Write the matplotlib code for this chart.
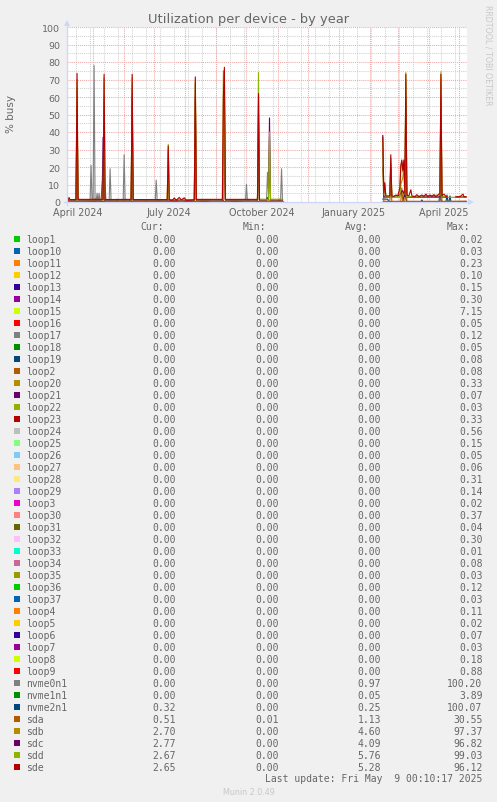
import numpy as np
import pandas as pd
import matplotlib
matplotlib.use("Agg")
import matplotlib.pyplot as plt
from matplotlib.lines import Line2D
from matplotlib.patches import Rectangle, Polygon

# -----------------------------
# Legend table (alphabetical, as munin lists it)
# -----------------------------
NAMES = ["loop1", "loop10", "loop11", "loop12", "loop13", "loop14", "loop15", "loop16",
         "loop17", "loop18", "loop19", "loop2", "loop20", "loop21", "loop22", "loop23",
         "loop24", "loop25", "loop26", "loop27", "loop28", "loop29", "loop3", "loop30",
         "loop31", "loop32", "loop33", "loop34", "loop35", "loop36", "loop37", "loop4",
         "loop5", "loop6", "loop7", "loop8", "loop9", "nvme0n1", "nvme1n1", "nvme2n1",
         "sda", "sdb", "sdc", "sdd", "sde"]
COLORS = ["#00CC00", "#0066B3", "#FF8000", "#FFCC00", "#330099", "#990099", "#CCFF00", "#FF0000",
          "#808080", "#008F00", "#00487D", "#B35A00", "#B38F00", "#6B006B", "#8FB300", "#B30000",
          "#BEBEBE", "#80FF80", "#80C9FF", "#FFC080", "#FFE680", "#AA80FF", "#EE00CC", "#FF8080",
          "#666600", "#FFBFFF", "#00FFCC", "#CC6699", "#999900", "#00CC00", "#0066B3", "#FF8000",
          "#FFCC00", "#330099", "#990099", "#CCFF00", "#FF0000", "#808080", "#008F00", "#00487D",
          "#B35A00", "#B38F00", "#6B006B", "#8FB300", "#B30000"]
CUR = [0.00] * 39 + [0.32, 0.51, 2.70, 2.77, 2.67, 2.65]
MIN = [0.00] * 40 + [0.01, 0.00, 0.00, 0.00, 0.00]
AVG = [0.00] * 37 + [0.97, 0.05, 0.25, 1.13, 4.60, 4.09, 5.76, 5.28]
MAX = [0.02, 0.03, 0.23, 0.10, 0.15, 0.30, 7.15, 0.05, 0.12, 0.05, 0.08, 0.08, 0.33, 0.07,
       0.03, 0.33, 0.56, 0.15, 0.05, 0.06, 0.31, 0.14, 0.02, 0.37, 0.04, 0.30, 0.01, 0.08,
       0.03, 0.12, 0.03, 0.11, 0.02, 0.07, 0.03, 0.18, 0.88, 100.20, 3.89, 100.07, 30.55,
       97.37, 96.82, 99.03, 96.12]

# -----------------------------
# Series (daily averages, None = no data)
# -----------------------------
idle_dates = ["2024-04-05", "2024-11-06", "2025-01-01", "2025-02-14", "2025-05-08"]
idle_vals = [0.0, 0.0, None, 0.0, 0.0]

nvme0n1_dates = ["2024-04-05", "2024-04-28", "2024-04-29", "2024-04-30", "2024-05-01", "2024-05-02",
                 "2024-05-03", "2024-05-04", "2024-05-05", "2024-05-06", "2024-05-07", "2024-05-08",
                 "2024-05-12", "2024-05-13", "2024-05-14", "2024-05-17", "2024-05-18", "2024-05-19",
                 "2024-05-31", "2024-06-01", "2024-06-02", "2024-07-02", "2024-07-03", "2024-07-04",
                 "2024-09-30", "2024-10-01", "2024-10-02", "2024-10-21", "2024-10-22", "2024-10-23",
                 "2024-10-24", "2024-10-25", "2024-11-04", "2024-11-05", "2024-11-06", "2025-01-01",
                 "2025-02-14", "2025-05-08"]
nvme0n1_vals = [0, 0, 21, 0, 0, 78, 0, 0, 5, 0, 5, 0, 0, 10, 0, 0, 19, 0, 0, 27, 0, 0, 12.5, 0,
                0, 10, 0, 0, 17, 5, 38, 0, 0, 19, 0, None, 0, 0]

nvme1n1_dates = idle_dates
nvme1n1_vals = [0.05, 0.05, None, 0.05, 0.05]

nvme2n1_dates = ["2024-04-05", "2024-04-06", "2024-04-12", "2024-04-13", "2024-04-14", "2024-05-03",
                 "2024-05-04", "2024-05-05", "2024-05-24", "2024-05-25", "2024-05-26", "2024-06-06",
                 "2024-06-07", "2024-06-08", "2024-06-22", "2024-06-23", "2024-06-24", "2024-07-05",
                 "2024-07-06", "2024-07-07", "2024-09-06", "2024-09-07", "2024-09-08", "2024-10-02",
                 "2024-10-03", "2024-10-04", "2024-10-10", "2024-10-11", "2024-10-12", "2024-11-02",
                 "2024-11-03", "2024-11-04", "2024-11-06", "2025-01-01",
                 "2025-02-14", "2025-02-19", "2025-02-20", "2025-03-06", "2025-03-07", "2025-03-08",
                 "2025-03-09", "2025-03-10", "2025-03-24", "2025-03-25", "2025-03-26", "2025-04-11",
                 "2025-04-12", "2025-04-13", "2025-04-14", "2025-04-18", "2025-04-19", "2025-04-20",
                 "2025-04-21", "2025-04-22", "2025-04-23", "2025-05-08"]
nvme2n1_vals = [1.8, 0.1, 0.1, 1.6, 0.1, 0.1, 1.5, 0.1, 0.1, 1.6, 0.1, 0.1, 1.5, 0.1, 0.1, 1.4,
                0.1, 0.1, 1.5, 0.1, 0.1, 1.6, 0.1, 0.1, 1.5, 0.1, 0.1, 1.5, 0.1, 0.1, 1.6, 0.1,
                0.1, None,
                1.7, 1.6, 0.1, 0.1, 3.0, 6.5, 2.0, 0.1, 0.1, 1.2, 0.1, 0.1, 5.0, 1.0, 0.1, 0.1,
                4.0, 0.2, 0.2, 3.5, 0.1, 0.3]

sda_dates = ["2024-04-05", "2024-04-14", "2024-04-15", "2024-04-16", "2024-04-30", "2024-05-03",
             "2024-05-06", "2024-05-09", "2024-05-12", "2024-05-13", "2024-06-08", "2024-06-09",
             "2024-06-10", "2024-07-14", "2024-07-15", "2024-07-16", "2024-07-22", "2024-07-28",
             "2024-08-03", "2024-08-10", "2024-08-11", "2024-08-12", "2024-08-20", "2024-08-28",
             "2024-09-08", "2024-09-09", "2024-09-10", "2024-09-20", "2024-10-01", "2024-10-12",
             "2024-10-13", "2024-10-14", "2024-11-06", "2025-01-01",
             "2025-02-14", "2025-02-15", "2025-02-21", "2025-02-22", "2025-02-23", "2025-03-04",
             "2025-03-05", "2025-03-06", "2025-03-08", "2025-03-09", "2025-03-10", "2025-04-12",
             "2025-04-13", "2025-04-14", "2025-05-08"]
sda_vals = [0.6, 0.5, 30.5, 0.5, 0.8, 1.8, 0.5, 1.5, 25, 0.5, 0.5, 28, 0.5, 0.5, 15, 0.5, 1.0, 0.3,
            1.2, 0.6, 28, 0.5, 1.0, 0.4, 0.5, 30, 0.5, 0.9, 0.4, 0.4, 25, 0.4, 0.4, None,
            20, 0.4, 0.4, 12, 0.4, 0.4, 8, 0.4, 0.4, 28, 0.4, 0.4, 25, 0.4, 0.5]

sdb_dates = ["2024-04-05", "2024-04-14", "2024-04-15", "2024-04-16", "2024-05-11", "2024-05-12",
             "2024-05-13", "2024-06-08", "2024-06-09", "2024-06-10", "2024-07-14", "2024-07-15",
             "2024-07-16", "2024-08-10", "2024-08-11", "2024-08-12", "2024-09-07", "2024-09-08",
             "2024-09-09", "2024-09-10", "2024-10-12", "2024-10-13", "2024-10-14", "2024-11-06",
             "2025-01-01",
             "2025-02-14", "2025-02-15", "2025-02-21", "2025-02-22", "2025-02-23", "2025-03-03",
             "2025-03-04", "2025-03-05", "2025-03-06", "2025-03-07", "2025-03-08", "2025-03-09",
             "2025-03-10", "2025-04-12", "2025-04-13", "2025-04-14", "2025-05-08"]
sdb_vals = [1.0, 1.0, 65, 1.0, 1.0, 60, 1.0, 1.0, 65, 1.0, 1.0, 30, 1.0, 1.0, 68, 1.0, 1.0, 75,
            50, 1.0, 1.0, 55, 1.0, 1.0, None,
            30, 2.7, 2.7, 22, 2.7, 2.7, 10, 12, 14, 20, 2.7, 70, 2.7, 2.7, 70, 2.7, 2.7]

sdc_dates = ["2024-04-05", "2024-04-14", "2024-04-15", "2024-04-16", "2024-05-10", "2024-05-11",
             "2024-05-12", "2024-06-08", "2024-06-09", "2024-06-10", "2024-08-10", "2024-08-11",
             "2024-08-12", "2024-09-08", "2024-09-09", "2024-09-10", "2024-10-12", "2024-10-13",
             "2024-10-14", "2024-10-21", "2024-10-22", "2024-10-23", "2024-10-24", "2024-10-25",
             "2024-11-06", "2025-01-01",
             "2025-02-14", "2025-02-15", "2025-02-21", "2025-02-22", "2025-02-23", "2025-03-03",
             "2025-03-05", "2025-03-06", "2025-03-07", "2025-03-08", "2025-03-09", "2025-03-10",
             "2025-04-12", "2025-04-13", "2025-04-14", "2025-04-19", "2025-04-20", "2025-04-28",
             "2025-05-08"]
sdc_vals = [1.2, 1.2, 55, 1.2, 1.2, 37, 1.2, 1.2, 60, 1.2, 1.2, 60, 1.2, 1.2, 65, 1.2, 1.2, 50,
            1.2, 1.2, 2.5, 1.5, 48, 1.2, 1.2, None,
            38, 2.9, 2.9, 20, 2.9, 4.0, 6.0, 6.5, 5.0, 2.9, 60, 2.9, 2.9, 60, 2.9, 2.8, None, 2.8,
            2.8]

sdd_dates = ["2024-04-05", "2024-04-14", "2024-04-15", "2024-04-16", "2024-05-11", "2024-05-12",
             "2024-05-13", "2024-06-08", "2024-06-09", "2024-06-10", "2024-07-14", "2024-07-15",
             "2024-07-16", "2024-08-10", "2024-08-11", "2024-08-12", "2024-09-08", "2024-09-09",
             "2024-09-10", "2024-10-12", "2024-10-13", "2024-10-14", "2024-10-23", "2024-10-24",
             "2024-10-25", "2024-11-06", "2025-01-01",
             "2025-02-14", "2025-02-15", "2025-02-16", "2025-02-17", "2025-02-21", "2025-02-22",
             "2025-02-23", "2025-03-03", "2025-03-04", "2025-03-05", "2025-03-06", "2025-03-07",
             "2025-03-08", "2025-03-09", "2025-03-10", "2025-04-12", "2025-04-13", "2025-04-14",
             "2025-04-19", "2025-04-20", "2025-04-28", "2025-05-08"]
sdd_vals = [1.4, 1.4, 70, 1.4, 1.4, 71, 1.4, 1.4, 71, 1.4, 1.4, 33, 1.4, 1.4, 70, 1.4, 1.4, 75,
            1.4, 1.4, 74, 1.6, 1.6, 40, 1.6, 1.6, None,
            35, 4.5, 10, 3.0, 3.0, 25, 3.0, 3.0, 20, 23, 17, 22, 4.5, 74, 3.0, 4.0, 74.5, 3.0,
            3.0, None, 2.8, 2.8]

sde_dates = ["2024-04-05", "2024-04-06", "2024-04-07", "2024-04-08", "2024-04-14", "2024-04-15",
             "2024-04-16", "2024-05-11", "2024-05-12", "2024-05-13", "2024-06-08", "2024-06-09",
             "2024-06-10", "2024-07-14", "2024-07-15", "2024-07-16", "2024-07-19", "2024-07-21",
             "2024-07-23", "2024-07-26", "2024-07-28", "2024-07-31", "2024-08-02", "2024-08-10",
             "2024-08-11", "2024-08-12", "2024-09-07", "2024-09-08", "2024-09-09", "2024-09-10",
             "2024-10-12", "2024-10-13", "2024-10-14", "2025-01-01",
             "2025-02-14", "2025-02-15", "2025-02-16", "2025-02-17", "2025-02-21", "2025-02-22",
             "2025-02-23", "2025-02-25", "2025-02-27", "2025-03-01", "2025-03-03", "2025-03-04",
             "2025-03-05", "2025-03-06", "2025-03-07", "2025-03-08", "2025-03-09", "2025-03-10",
             "2025-03-12", "2025-03-14", "2025-03-15", "2025-03-18", "2025-03-20", "2025-03-22",
             "2025-03-25", "2025-03-27", "2025-03-29", "2025-03-31", "2025-04-02", "2025-04-04",
             "2025-04-06", "2025-04-08", "2025-04-10", "2025-04-12", "2025-04-13", "2025-04-14",
             "2025-04-16", "2025-04-18", "2025-04-19", "2025-04-20", "2025-04-28", "2025-05-02",
             "2025-05-05", "2025-05-06", "2025-05-08"]
sde_vals = [2.0, 0.8, 2.6, 1.4, 1.4, 73.5, 1.5, 1.5, 73, 1.4, 1.5, 73, 1.4, 1.4, 32, 1.3, 1.0, 2.3,
            1.0, 2.6, 1.2, 2.4, 1.0, 1.3, 71.5, 1.5, 1.5, 60, 77, 1.5, 1.5, 62, 1.5, None,
            37, 5, 11, 3.5, 3.5, 27, 3.5, 3.2, 4.0, 3.5, 8, 21, 24, 18, 24, 5, 73, 4, 3.5, 7, 3.5,
            3.0, 4.2, 3.0, 4.0, 3.2, 4.5, 3.0, 4.0, 3.2, 4.2, 3.0, 4.0, 5, 73, 3.5, 4.5, 3.2, 3.0,
            None, 3.0, 3.0, 4.5, 3.0, 3.0]

SERIES = {
    "nvme0n1": (nvme0n1_dates, nvme0n1_vals),
    "nvme1n1": (nvme1n1_dates, nvme1n1_vals),
    "nvme2n1": (nvme2n1_dates, nvme2n1_vals),
    "sda": (sda_dates, sda_vals),
    "sdb": (sdb_dates, sdb_vals),
    "sdc": (sdc_dates, sdc_vals),
    "sdd": (sdd_dates, sdd_vals),
    "sde": (sde_dates, sde_vals),
}

# axis labels
X_LABELS = ["April 2024", "July 2024", "October 2024", "January 2025", "April 2025"]
X_LABEL_POS = ["2024-04-16", "2024-07-16", "2024-10-16", "2025-01-16", "2025-04-16"]
Y_TICKS = list(range(0, 101, 10))

# -----------------------------
# Figure in pixel coordinates (munin layout)
# -----------------------------
W, H = 497, 803
FONT = "#666666"
AXIS = "#CFD6F8"


def fx(x):
    return x / W


def fy(y):
    return 1 - y / H


fig = plt.figure(figsize=(W / 100, H / 100), dpi=100, facecolor="#F0F0F0")
ax = fig.add_axes([fx(67), fy(203), 400 / W, 175 / H])
ax.set_facecolor("white")
for s in ax.spines.values():
    s.set_visible(False)

x0, x1 = pd.Timestamp("2024-04-05"), pd.Timestamp("2025-05-09")
ax.set_xlim(x0, x1)
ax.set_ylim(0, 100)

# grid: grey minor, red major (dotted like rrdtool)
dots = (0, (1, 1))
for d in pd.date_range("2024-04-14", "2025-05-09", freq="14D"):
    ax.axvline(d, color="#D2D2D2", lw=0.75, ls=dots, zorder=1)
for v in range(5, 100, 10):
    ax.axhline(v, color="#D2D2D2", lw=0.75, ls=dots, zorder=1)
for d in pd.date_range("2024-05-01", "2025-05-01", freq="MS"):
    ax.axvline(d, color="#F0A8A8", lw=0.75, ls=dots, zorder=2)
for v in range(10, 101, 10):
    ax.axhline(v, color="#F0A8A8", lw=0.75, ls=dots, zorder=2)

# lines: loops first, then the real devices in legend order
for name, col in zip(NAMES, COLORS):
    if name in SERIES:
        dts, vals = SERIES[name]
    else:
        dts, vals = idle_dates, idle_vals
    y = np.array([np.nan if v is None else v for v in vals], dtype=float)
    ax.plot(pd.to_datetime(dts), y, color=col, lw=0.8, zorder=3)

ax.set_xticks(pd.to_datetime(X_LABEL_POS))
ax.set_xticklabels(X_LABELS)
ax.set_yticks(Y_TICKS)
ax.set_yticklabels([str(v) for v in Y_TICKS])
ax.tick_params(axis="x", length=0, pad=3.5, labelsize=6.9, labelcolor=FONT)
ax.tick_params(axis="y", length=0, pad=5, labelsize=6.8, labelcolor=FONT)

# axes with arrows
fig.add_artist(Line2D([fx(67), fx(67)], [fy(206), fy(24)], color=AXIS, lw=0.9))
fig.add_artist(Line2D([fx(64), fx(470)], [fy(203), fy(203)], color=AXIS, lw=0.9))
fig.add_artist(Polygon([[fx(64), fy(27)], [fx(70), fy(27)], [fx(67), fy(21)]],
                       closed=True, color=AXIS, lw=0))
fig.add_artist(Polygon([[fx(468), fy(200)], [fx(468), fy(206)], [fx(474), fy(203)]],
                       closed=True, color=AXIS, lw=0))

# titles
fig.text(fx(248.5), fy(19), "Utilization per device - by year", ha="center", va="center",
         fontsize=9.4, color=FONT)
fig.text(fx(11), fy(114), "% busy", ha="center", va="center", rotation=90,
         fontsize=7.5, color=FONT)
fig.text(fx(488), fy(5), "RRDTOOL / TOBI OETIKER", ha="center", va="top", rotation=270,
         fontsize=5.7, color="#C8C8C8")

# legend table
mono = "DejaVu Sans Mono"
hy = 227.5
for label, xl in zip(["Cur:", "Min:", "Avg:", "Max:"], [140, 242.7, 345, 446.7]):
    fig.text(fx(xl), fy(hy), label, ha="left", va="center", fontsize=7, family=mono, color=FONT)

for i, name in enumerate(NAMES):
    ry = 240 + 12 * i
    fig.add_artist(Rectangle((fx(14), fy(ry + 3)), 6 / W, 6 / H, color=COLORS[i], lw=0))
    fig.text(fx(26.5), fy(ry), name, ha="left", va="center", fontsize=7, family=mono,
             color=FONT)
    for val, xr in zip([CUR[i], MIN[i], AVG[i], MAX[i]], [176, 279, 381, 482.5]):
        fig.text(fx(xr), fy(ry), f"{val:.2f}", ha="right", va="center", fontsize=7,
                 family=mono, color=FONT)

fig.text(fx(482.5), fy(779.5), "Last update: Fri May  9 00:10:17 2025", ha="right",
         va="center", fontsize=7, family=mono, color=FONT)
fig.text(fx(248.5), fy(792.5), "Munin 2.0.49", ha="center", va="center", fontsize=5.8,
         color="#C8C8C8")

fig.savefig("out.png", dpi=100, facecolor=fig.get_facecolor())
